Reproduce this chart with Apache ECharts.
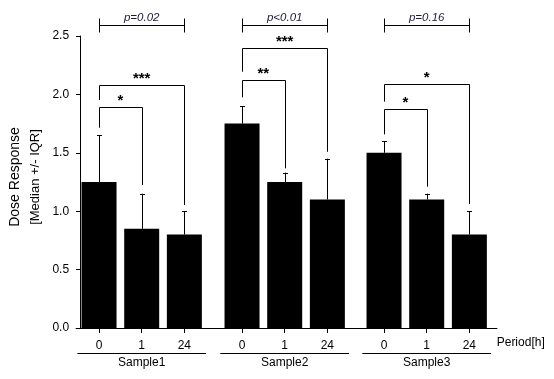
<!DOCTYPE html>
<html><head><meta charset="utf-8">
<script src="https://cdn.jsdelivr.net/npm/echarts@6/dist/echarts.min.js"></script>
<style>html,body{margin:0;padding:0;background:#fff}#c{width:554px;height:379px}</style>
</head><body><div id="c"></div>
<script>
const periods = ['0', '1', '24'];
const samples = ['Sample1', 'Sample2', 'Sample3'];
const sample1Median = [1.25, 0.85, 0.80];
const sample1Upper  = [1.65, 1.15, 1.00];
const sample2Median = [1.75, 1.25, 1.10];
const sample2Upper  = [1.90, 1.33, 1.45];
const sample3Median = [1.50, 1.10, 0.80];
const sample3Upper  = [1.60, 1.15, 1.00];
const pLabels = ['p=0.02', 'p<0.01', 'p=0.16'];
const pLevel = 2.594;
// significance brackets: [from, to, level, left leg end, right leg end]
const sample1Sig = [[0, 1, 1.89, 1.715, 1.224], [0, 2, 2.078, 1.952, 1.053]];
const sample1Stars = ['*', '***'];
const sample2Sig = [[0, 1, 2.121, 1.975, 1.367], [0, 2, 2.395, 2.194, 1.509]];
const sample2Stars = ['**', '***'];
const sample3Sig = [[0, 1, 1.872, 1.658, 1.21], [0, 2, 2.087, 1.938, 1.062]];
const sample3Stars = ['*', '*'];
const yMin = 0, yMax = 2.5, yStep = 0.5;

const FONT = 'Liberation Sans, Arial, sans-serif';
const medians = [sample1Median, sample2Median, sample3Median];
const uppers = [sample1Upper, sample2Upper, sample3Upper];
const sigs = [sample1Sig, sample2Sig, sample3Sig];
const stars = [sample1Stars, sample2Stars, sample3Stars];
const gridLefts = [77.7, 220.7, 362.7];

const grid = [], xAxis = [], yAxis = [], series = [];
samples.forEach((s, i) => {
  grid.push({left: gridLefts[i], top: 36, width: 128, height: 292});
  xAxis.push({
    type: 'category', gridIndex: i, data: periods,
    axisLine: {show: false},
    axisTick: {show: true, length: 5, alignWithLabel: true, lineStyle: {color: '#000', width: 1}},
    axisLabel: {fontSize: 12, color: '#000', margin: 12, fontFamily: FONT},
    splitLine: {show: false},
    name: i === 2 ? 'Period[h]' : '', nameLocation: 'end', nameGap: 6,
    nameTextStyle: {fontSize: 12, color: '#000', fontFamily: FONT, verticalAlign: 'top', padding: [9, 0, 0, 0]}
  });
  xAxis.push({
    type: 'category', gridIndex: i, data: [s], position: 'bottom', offset: 25,
    axisLine: {show: true, lineStyle: {color: '#000', width: 1}},
    axisTick: {show: false},
    axisLabel: {fontSize: 12, color: '#000', margin: 4, fontFamily: FONT},
    splitLine: {show: false}
  });
  yAxis.push({type: 'value', gridIndex: i, min: yMin, max: yMax, show: false});

  series.push({
    type: 'bar', xAxisIndex: 2 * i, yAxisIndex: i, barWidth: 35,
    itemStyle: {color: '#000'}, data: medians[i], silent: true
  });
  series.push({
    type: 'custom', xAxisIndex: 2 * i, yAxisIndex: i, silent: true,
    data: periods.map((p, k) => [k, medians[i][k], uppers[i][k]]),
    encode: {x: 0, y: [1, 2]},
    renderItem: (params, api) => {
      const b = api.coord([api.value(0), api.value(1)]);
      const t = api.coord([api.value(0), api.value(2)]);
      const x = Math.round(b[0]) + 0.5;
      return {type: 'group', children: [
        {type: 'line', shape: {x1: x, y1: b[1], x2: x, y2: t[1]}, style: {stroke: '#000', lineWidth: 1}},
        {type: 'line', shape: {x1: x - 2.5, y1: Math.round(t[1]) + 0.5, x2: x + 2.5, y2: Math.round(t[1]) + 0.5}, style: {stroke: '#000', lineWidth: 1}}
      ]};
    }
  });
  series.push({
    type: 'custom', xAxisIndex: 2 * i, yAxisIndex: i, silent: true, clip: false,
    data: sigs[i],
    encode: {x: [0, 1], y: [2, 3, 4]},
    renderItem: (params, api) => {
      const f = api.value(0), t = api.value(1);
      const a = api.coord([f, api.value(3)]);
      const top1 = api.coord([f, api.value(2)]);
      const top2 = api.coord([t, api.value(2)]);
      const c = api.coord([t, api.value(4)]);
      const r = v => Math.round(v) + 0.5;
      const y = r(top1[1]);
      return {type: 'group', children: [
        {type: 'polyline', shape: {points: [[r(a[0]), a[1]], [r(a[0]), y], [r(c[0]), y], [r(c[0]), c[1]]]},
         style: {stroke: '#000', lineWidth: 1, fill: null}},
        {type: 'text', style: {text: stars[i][params.dataIndex], x: (top1[0] + top2[0]) / 2, y: y - 6.5,
         align: 'center', verticalAlign: 'middle', font: 'bold 15px ' + FONT, fill: '#000'}}
      ]};
    }
  });
  series.push({
    type: 'custom', xAxisIndex: 2 * i, yAxisIndex: i, silent: true, clip: false,
    data: [[0, 2, pLevel]],
    encode: {x: [0, 1], y: 2},
    renderItem: (params, api) => {
      const l = api.coord([api.value(0), api.value(2)]);
      const rr = api.coord([api.value(1), api.value(2)]);
      const r = v => Math.round(v) + 0.5;
      const y = r(l[1]);
      return {type: 'group', children: [
        {type: 'line', shape: {x1: r(l[0]), y1: y, x2: r(rr[0]), y2: y}, style: {stroke: '#000', lineWidth: 1}},
        {type: 'line', shape: {x1: r(l[0]), y1: y - 7, x2: r(l[0]), y2: y + 7}, style: {stroke: '#000', lineWidth: 1}},
        {type: 'line', shape: {x1: r(rr[0]), y1: y - 7, x2: r(rr[0]), y2: y + 7}, style: {stroke: '#000', lineWidth: 1}},
        {type: 'text', style: {text: pLabels[i], x: (l[0] + rr[0]) / 2, y: y - 8,
         align: 'center', verticalAlign: 'middle', font: 'italic 11.5px ' + FONT, fill: '#1a1a3a'}}
      ]};
    }
  });
});

// frame grid with y axis and baseline
grid.push({left: 66, top: 36, width: 431, height: 292});
xAxis.push({type: 'value', gridIndex: 3, min: 0, max: 1,
  axisLine: {show: true, onZero: false, lineStyle: {color: '#000', width: 1}},
  axisTick: {show: false}, axisLabel: {show: false}, splitLine: {show: false}});
yAxis.push({type: 'value', gridIndex: 3, min: yMin, max: yMax, interval: yStep, offset: -4,
  axisLine: {show: true, lineStyle: {color: '#000', width: 1}},
  axisTick: {show: true, length: 4, lineStyle: {color: '#000'}},
  axisLabel: {fontSize: 12, color: '#000', margin: 11, fontFamily: FONT, formatter: v => v.toFixed(1)},
  splitLine: {show: false},
  name: '{a|Dose Response}\n{b|[Median +/- IQR]}', nameLocation: 'middle', nameRotate: 90, nameGap: 26,
  nameTextStyle: {fontFamily: FONT, color: '#000', padding: [0, 0, 0, 10],
    rich: {a: {fontSize: 14, lineHeight: 20, fontFamily: FONT, color: '#000'},
           b: {fontSize: 13, lineHeight: 20, fontFamily: FONT, color: '#000'}}}
});

const chart = echarts.init(document.getElementById('c'), null, {renderer: 'canvas'});
chart.setOption({animation: false, backgroundColor: '#fff', grid, xAxis, yAxis, series});
</script></body></html>
